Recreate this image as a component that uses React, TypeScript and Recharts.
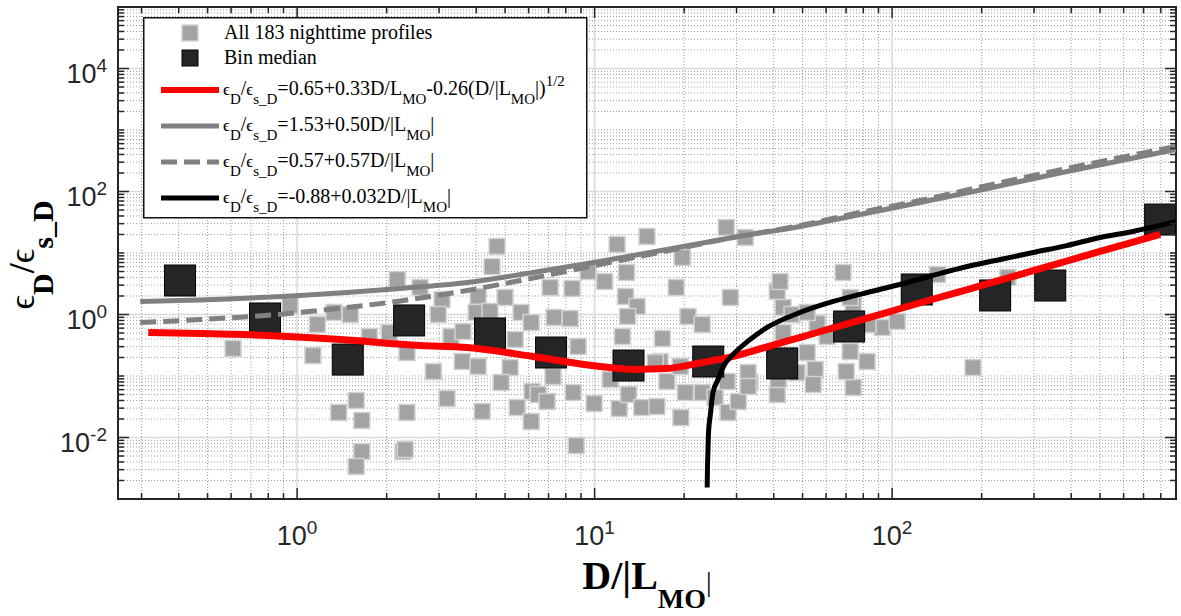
import {
  ComposedChart, Scatter, XAxis, YAxis, CartesianGrid,
  Legend, ReferenceArea,
} from 'recharts'

// readings taken off the figure (D/|L_MO|, eps_D/eps_s_D)
const grayProfiles = [
  [0.609, 0.280], [1.13, 0.215], [0.947, 1.40], [1.17, 0.688], [1.33, 1.08], [1.51, 1.00],
  [1.75, 0.439], [2.04, 0.510], [2.17, 3.71], [2.34, 0.241], [1.58, 0.0400], [1.38, 0.0255],
  [1.65, 0.0189], [2.34, 0.0255], [1.65, 0.00592], [1.58, 0.00338], [2.27, 0.00592],
  [4.70, 12.8], [4.52, 6.03], [11.9, 13.8], [15.0, 18.6], [27.7, 26.0], [32.1, 17.9],
  [19.7, 8.45], [12.8, 4.82], [9.51, 5.00], [10.8, 3.44], [7.09, 2.75], [8.40, 2.65],
  [18.8, 2.75], [28.6, 1.89], [41.1, 2.37], [42.0, 3.44], [5.00, 1.89], [4.06, 1.96],
  [3.07, 1.75], [2.59, 2.75], [12.7, 1.96], [13.9, 1.35], [12.9, 0.928], [20.6, 0.928],
  [23.0, 0.688], [43.0, 1.30], [46.1, 1.00], [4.00, 1.08], [2.98, 1.00], [4.45, 1.12],
  [5.66, 1.08], [6.12, 0.741], [7.31, 0.894], [8.28, 0.861], [5.41, 0.392], [3.29, 0.439],
  [3.61, 0.529], [8.80, 0.302], [12.4, 0.439], [16.9, 0.407], [2.87, 0.118], [3.59, 0.172],
  [4.06, 0.143], [5.20, 0.137], [7.25, 0.0981], [4.85, 0.0784], [6.16, 0.0560], [6.46, 0.0500],
  [8.47, 0.0539], [6.92, 0.0385], [3.19, 0.0431], [4.19, 0.0265], [5.49, 0.0307], [6.12, 0.0182],
  [9.96, 0.0357], [11.3, 0.0877], [12.1, 0.0296], [13.0, 0.0500], [14.4, 0.0307], [16.2, 0.0319],
  [17.5, 0.0814], [19.4, 0.143], [20.2, 0.0539], [23.0, 0.0539], [19.5, 0.0211], [25.4, 0.0447],
  [28.1, 0.0255], [30.4, 0.0385], [33.3, 0.0784], [32.8, 0.114], [41.1, 0.0500], [41.4, 0.0877],
  [47.9, 0.114], [8.67, 0.00741], [2.31, 0.00638], [16.6, 0.172], [68.4, 4.82], [60.5, 0.439],
  [72.3, 0.250], [82.4, 0.172], [92.6, 0.615], [104, 0.770], [74.0, 1.45], [56.0, 0.714],
  [51.8, 0.241], [55.1, 0.128], [54.3, 0.0727], [74.0, 0.0650], [43.0, 0.510], [32.8, 0.0675],
  [16.0, 0.166], [27.9, 0.0814], [83.1, 0.688], [70.1, 0.118], [142, 4.47], [245, 4.00],
  [187, 0.137], [51.8, 1.08], [72.3, 1.89],
]

const binMedians = [
  [0.404, 3.57], [0.780, 0.861], [1.48, 0.185], [2.38, 0.800], [4.45, 0.491], [7.14, 0.241],
  [13.0, 0.148], [24.1, 0.172], [42.7, 0.160], [71.7, 0.638], [121, 2.55], [222, 2.04],
  [340, 2.96], [796, 35.0],
]

const fitRed = [
  [0.316, 0.510], [0.472, 0.491], [0.793, 0.456], [1.40, 0.392], [2.59, 0.313], [3.73, 0.291],
  [6.21, 0.208], [10.4, 0.143], [13.5, 0.128], [17.5, 0.132], [22.6, 0.163], [29.2, 0.208],
  [38.0, 0.298], [49.1, 0.426], [63.4, 0.606], [82.4, 0.871], [106, 1.24], [137, 1.77],
  [179, 2.54], [231, 3.63], [298, 5.15], [387, 7.41], [500, 10.6], [646, 15.0], [796, 20.1],
]

const fitGraySolid = [
  [0.297, 1.63], [0.472, 1.72], [1.02, 2.04], [2.22, 2.65], [3.73, 3.31], [6.21, 4.82],
  [10.4, 7.28], [17.5, 11.4], [29.2, 17.9], [49.1, 27.0], [78.1, 42.3], [124, 66.2],
  [202, 108], [387, 211], [900, 482],
]

const fitGrayDashed = [
  [0.297, 0.741], [0.472, 0.829], [0.857, 1.00], [1.32, 1.23], [2.22, 1.66], [3.73, 2.46],
  [6.21, 3.92], [10.4, 6.50], [17.5, 10.8], [29.2, 17.9], [49.1, 28.0], [78.1, 45.6],
  [124, 71.4], [202, 121], [387, 237], [900, 539],
]

const fitBlack = [
  [23.9, 0.00154], [23.95, 0.00302], [24.05, 0.00638], [24.15, 0.0121], [24.5, 0.0237],
  [25.0, 0.0539], [26.0, 0.0877], [27.2, 0.148], [29.2, 0.224], [33.3, 0.392], [38.0, 0.615],
  [49.1, 1.08], [63.4, 1.63], [82.4, 2.28], [106, 3.07], [137, 4.31], [179, 6.03],
  [231, 7.84], [298, 10.2], [387, 13.2], [500, 17.9], [646, 22.4], [900, 32.5],
]

const X_MAJOR = [1, 10, 100]
const X_EXP = ['0', '1', '2']
const X_MINOR = [
  0.3, 0.4, 0.5, 0.6, 0.7, 0.8, 0.9,
  2, 3, 4, 5, 6, 7, 8, 9,
  20, 30, 40, 50, 60, 70, 80, 90,
  200, 300, 400, 500, 600, 700, 800, 900,
]
const Y_MAJOR = [0.01, 1, 100, 10000]
const Y_EXP = ['-2', '0', '2', '4']
const Y_MINOR = [
  0.002, 0.003, 0.004, 0.005, 0.006, 0.007, 0.008, 0.009,
  0.02, 0.03, 0.04, 0.05, 0.06, 0.07, 0.08, 0.09, 0.1,
  0.2, 0.3, 0.4, 0.5, 0.6, 0.7, 0.8, 0.9,
  2, 3, 4, 5, 6, 7, 8, 9, 10,
  20, 30, 40, 50, 60, 70, 80, 90,
  200, 300, 400, 500, 600, 700, 800, 900, 1000,
  2000, 3000, 4000, 5000, 6000, 7000, 8000, 9000,
  20000, 30000, 40000, 50000, 60000, 70000, 80000, 90000,
]

const X_DOMAIN = [0.25, 900]
const Y_DOMAIN = [0.001, 100000]

const W = 1181
const H = 616
const MARGIN = { top: 7, right: 5, left: 0, bottom: 0 }
const PLOT_TOP = MARGIN.top
const PLOT_RIGHT = W - MARGIN.right

const AXIS = '#262626'
const SANS = '"Liberation Sans", Arial, sans-serif'
const SERIF = '"Liberation Serif", "Times New Roman", serif'

const toXY = (arr: number[][]) => arr.map(([x, y]) => ({ x, y }))

function XTick({ x, y, payload }: any) {
  const i = X_MAJOR.indexOf(payload.value)
  const len = i >= 0 ? 11 : 6
  return (
    <g>
      <line x1={x} x2={x} y1={y} y2={y - len} stroke={AXIS} strokeWidth={1.5} />
      <line x1={x} x2={x} y1={PLOT_TOP} y2={PLOT_TOP + len} stroke={AXIS} strokeWidth={1.5} />
      {i >= 0 && (
        <text x={x} y={y + 46} textAnchor="middle" fontFamily={SANS} fontSize={27} fill={AXIS}>
          10<tspan dy={-11} fontSize={19}>{X_EXP[i]}</tspan>
        </text>
      )}
    </g>
  )
}

function YTick({ x, y, payload }: any) {
  const i = Y_MAJOR.indexOf(payload.value)
  const len = i >= 0 ? 11 : 6
  return (
    <g>
      <line x1={x} x2={x + len} y1={y} y2={y} stroke={AXIS} strokeWidth={1.5} />
      <line x1={PLOT_RIGHT} x2={PLOT_RIGHT - len} y1={y} y2={y} stroke={AXIS} strokeWidth={1.5} />
      {i >= 0 && (
        <text x={x - 11} y={y + 14} textAnchor="end" fontFamily={SANS} fontSize={27} fill={AXIS}>
          10<tspan dy={-11} fontSize={19}>{Y_EXP[i]}</tspan>
        </text>
      )}
    </g>
  )
}

function XTitle({ viewBox }: any) {
  const cx = viewBox.x + viewBox.width / 2
  const base = viewBox.y + 90
  return (
    <text x={cx} y={base} textAnchor="middle" fontFamily={SERIF} fill="#000">
      <tspan fontSize={40} fontWeight="bold">D/|L</tspan>
      <tspan dy={19} fontSize={28} fontWeight="bold">MO</tspan>
      <tspan dy={-17} fontSize={28}>|</tspan>
    </text>
  )
}

function YTitle({ viewBox }: any) {
  const cy = viewBox.y + viewBox.height / 2 + 2
  const bx = 34
  return (
    <text x={bx} y={cy} textAnchor="middle" fontFamily={SERIF} fill="#000"
      transform={`rotate(-90, ${bx}, ${cy})`}>
      <tspan fontSize={36}>ϵ</tspan>
      <tspan dy={19} fontSize={30} fontWeight="bold">D</tspan>
      <tspan dy={-19} fontSize={36} fontWeight="bold">/</tspan>
      <tspan fontSize={36}>ϵ</tspan>
      <tspan dy={19} fontSize={30} fontWeight="bold">s_D</tspan>
    </text>
  )
}

const GraySquare = ({ cx, cy }: any) => (
  <rect x={cx - 8} y={cy - 8} width={16} height={16} fill="#a3a3a3" stroke="#d2d2d2" strokeWidth={1.5} />
)
const BlackSquare = ({ cx, cy }: any) => (
  <rect x={cx - 15.5} y={cy - 15.5} width={31} height={31} fill="#252525" stroke="#000" strokeWidth={1} />
)
const NoDot = () => <g />

type Part = [string, 'n' | 's' | 'p' | 'e']
const EPS_LEAD: Part[] = [['ϵ', 'e'], ['D', 's'], ['/', 'n'], ['ϵ', 'e'], ['s_D', 's']]

const LEGEND_LINES = [
  {
    color: '#ff0000', width: 6, dash: undefined,
    parts: [...EPS_LEAD, ['=0.65+0.33D/L', 'n'], ['MO', 's'], ['-0.26(D/|L', 'n'], ['MO', 's'], ['|)', 'n'], ['1/2', 'p']] as Part[],
  },
  { color: '#808080', width: 5, dash: undefined, parts: [...EPS_LEAD, ['=1.53+0.50D/|L', 'n'], ['MO', 's'], ['|', 'n']] as Part[] },
  { color: '#808080', width: 5, dash: '16 7', parts: [...EPS_LEAD, ['=0.57+0.57D/|L', 'n'], ['MO', 's'], ['|', 'n']] as Part[] },
  { color: '#000000', width: 5, dash: undefined, parts: [...EPS_LEAD, ['=-0.88+0.032D/|L', 'n'], ['MO', 's'], ['|', 'n']] as Part[] },
]

function Formula({ x, y, parts }: { x: number; y: number; parts: Part[] }) {
  let level = 0
  return (
    <text x={x} y={y} fontFamily={SERIF} fill="#000">
      {parts.map(([t, k], i) => {
        const target = k === 's' ? 9 : k === 'p' ? -9 : 0
        const dy = target - level
        level = target
        const size = k === 'n' ? 20 : k === 'e' ? 17 : 15
        return <tspan key={i} dy={dy} fontSize={size}>{t}</tspan>
      })}
    </text>
  )
}

function LegendBox() {
  return (
    <svg width={445} height={203} style={{ display: 'block' }}>
      <rect x={0.75} y={0.75} width={443} height={200} fill="#fff" stroke="#111" strokeWidth={1.5} />
      <rect x={39} y={8} width={16} height={16} fill="#a3a3a3" stroke="#d2d2d2" strokeWidth={1.5} />
      <text x={81} y={22} fontFamily={SERIF} fontSize={20} fill="#000">All 183 nighttime profiles</text>
      <rect x={39} y={33} width={16} height={16} fill="#252525" stroke="#000" />
      <text x={81} y={47} fontFamily={SERIF} fontSize={20} fill="#000">Bin median</text>
      {LEGEND_LINES.map((row, i) => {
        const ly = 73 + i * 36
        return (
          <g key={i}>
            <line x1={18} x2={76} y1={ly} y2={ly} stroke={row.color} strokeWidth={row.width} strokeDasharray={row.dash} />
            <Formula x={80} y={ly + 5} parts={row.parts} />
          </g>
        )
      })}
    </svg>
  )
}

export default function App() {
  return (
    <div style={{ position: 'absolute', left: 0, top: 0, width: W, height: H, background: '#fff' }}>
      <ComposedChart width={W} height={H} margin={MARGIN}>
        <CartesianGrid
          horizontalValues={Y_MINOR}
          verticalValues={X_MINOR}
          stroke="#9c9c9c"
          strokeDasharray="1 2"
        />
        <CartesianGrid
          horizontalValues={Y_MAJOR}
          verticalValues={X_MAJOR}
          stroke="#d9d9d9"
          strokeWidth={1.5}
        />
        <XAxis
          type="number"
          dataKey="x"
          scale="log"
          domain={X_DOMAIN}
          allowDataOverflow
          ticks={[...X_MINOR, ...X_MAJOR]}
          interval={0}
          tick={XTick}
          tickLine={false}
          axisLine={false}
          tickSize={0}
          tickMargin={0}
          height={117}
          label={{ content: XTitle }}
        />
        <YAxis
          type="number"
          dataKey="y"
          scale="log"
          domain={Y_DOMAIN}
          allowDataOverflow
          ticks={[...Y_MINOR, ...Y_MAJOR]}
          interval={0}
          tick={YTick}
          tickLine={false}
          axisLine={false}
          tickSize={0}
          tickMargin={0}
          width={118}
          label={{ content: YTitle }}
        />
        <Scatter data={toXY(grayProfiles)} dataKey="y" shape={GraySquare} isAnimationActive={false} />
        <Scatter data={toXY(binMedians)} dataKey="y" shape={BlackSquare} isAnimationActive={false} />
        <Scatter data={toXY(fitRed)} dataKey="y" shape={NoDot} lineJointType="monotoneX"
          line={{ stroke: '#ff0000', strokeWidth: 7 }} isAnimationActive={false} />
        <Scatter data={toXY(fitGraySolid)} dataKey="y" shape={NoDot} lineJointType="monotoneX"
          line={{ stroke: '#808080', strokeWidth: 5 }} isAnimationActive={false} />
        <Scatter data={toXY(fitGrayDashed)} dataKey="y" shape={NoDot} lineJointType="monotoneX"
          line={{ stroke: '#808080', strokeWidth: 5, strokeDasharray: '16 7' }} isAnimationActive={false} />
        <Scatter data={toXY(fitBlack)} dataKey="y" shape={NoDot} lineJointType="monotoneX"
          line={{ stroke: '#000000', strokeWidth: 5 }} isAnimationActive={false} />
        <ReferenceArea
          x1={X_DOMAIN[0]} x2={X_DOMAIN[1]} y1={Y_DOMAIN[0]} y2={Y_DOMAIN[1]}
          fill="none" fillOpacity={0} stroke={AXIS} strokeWidth={2} ifOverflow="visible"
        />
        <Legend
          layout="vertical"
          align="center"
          verticalAlign="middle"
          content={LegendBox}
          wrapperStyle={{ left: 143, top: 17, width: 445, height: 203 }}
        />
      </ComposedChart>
    </div>
  )
}
